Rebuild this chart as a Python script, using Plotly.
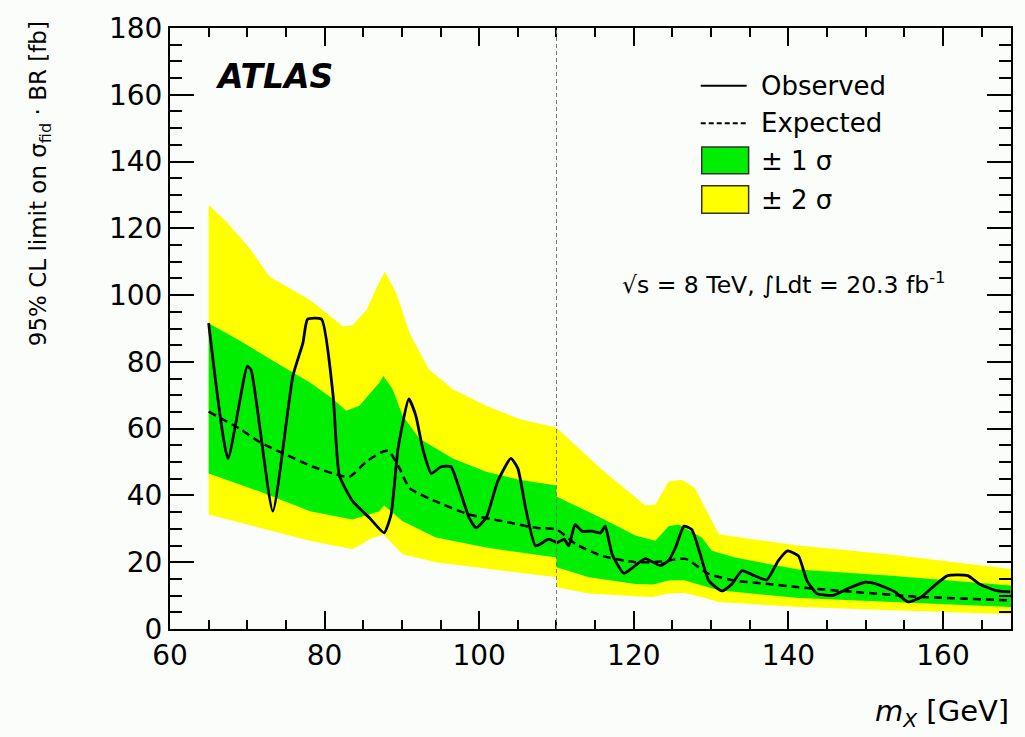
import plotly.graph_objects as go

# ---------------- data ----------------
obs_x = [65, 67.5, 70.0, 70.5, 73.3, 75.9, 77.2, 77.8, 79.6, 81.1, 81.9, 83.65, 85.8, 87.7, 88.6,
         89.5, 90.9, 91.8, 92.7, 93.8, 95.06, 96.35, 97.4, 98.7, 99.6, 100.9, 102.4, 104.1, 105,
         106, 107.3, 109, 110.1, 111, 111.6, 112.4, 113.3, 114.6, 115.7, 116.3, 117.2, 118.7,
         120.2, 121.5, 123.4, 124.5, 125.4, 126.5, 127.5, 128.6, 129.7, 131.4, 132.7, 134.0,
         135.3, 137.2, 138.7, 139.9, 141.3, 142.4, 143.7, 145.8, 147.7, 149.9, 151.6, 153.8,
         155.5, 157.2, 158.9, 160.6, 163.2, 164.7, 166.7, 168.7]
obs_y = [91.6, 51.1, 78.7, 77.5, 35.3, 75.8, 85.7, 92.8, 92.8, 69.9, 46.1, 38.2, 33.3, 28.8, 34.3,
         54.0, 68.9, 63.9, 54.0, 46.6, 48.6, 48.6, 42.2, 33.3, 30.3, 33.3, 44.2, 51.1, 48.1,
         36.3, 24.9, 26.9, 25.9, 26.9, 24.9, 31.3, 29.3, 29.3, 28.8, 30.8, 22.4, 16.7,
         19.0, 21.1, 19.0, 20.5, 24.4, 30.8, 29.8, 22.4, 14.5, 11.4, 13.5, 17.5,
         16.3, 14.7, 20.5, 23.4, 21.9, 14.5, 10.6, 10.1, 12.1, 14.0, 13.3, 11.1,
         8.1, 9.6, 13.0, 16.0, 16.0, 13.5, 11.6, 11.1]

exp_x = [65, 69, 71.6, 75.1, 78.5, 81.1, 83.2, 85.4, 87.5, 88.3, 89.7, 91, 94.4, 98.7, 103, 107.3,
         110, 112.5, 115.9, 120.2, 123.5, 126.7, 129.7, 133.1, 137.4, 141.3, 148.6, 157.2, 168.8]
exp_y = [65.1, 60.0, 56.0, 52.1, 48.6, 46.6, 45.6, 50.1, 53.1, 53.3, 48.1, 42.2, 38.2, 34.3, 32.3, 30.3,
         29.8, 25.4, 21.9, 20.0, 20.2, 21.0, 16.5, 14.5, 13.5, 12.5, 11.1, 9.6, 8.6]

y2_hi_x = [65, 67.3, 70.3, 72.9, 78.1, 82.4, 83.6, 85.4, 87.1, 87.8, 89.3, 91.0, 93.5, 96.6, 100.9,
           105.2, 110, 113, 116, 121.5, 122.8, 124.5, 126.2, 127.9, 129.7, 131.0, 135.3, 141.3,
           152.9, 168.8]
y2_hi = [127, 122, 114, 105.5, 98.5, 90.6, 91, 95.5, 104, 107, 100.5, 88.6, 77.7, 71.8, 66.9,
         62.9, 60.3, 54, 47.5, 37, 37.3, 44.2, 44.7, 42.2, 34.3, 28.4, 26.9, 25, 22.4, 18.0]

y2_lo_x = [65, 71.6, 78.1, 83.6, 86, 87.6, 90.1, 94.4, 100.9, 110, 110, 114.2, 120.2, 122.5, 124.5,
           126.5, 128.8, 131, 141.3, 168.8]
y2_lo = [34.3, 30.3, 26.4, 23.9, 27.0, 28.4, 22.4, 20.0, 18.0, 15.5, 12.5, 10.6, 9.8, 9.6, 10.6,
         10.8, 9.6, 8.1, 6.6, 4.4]

y1_hi_x = [65, 69.5, 73.8, 78.1, 81.1, 82.8, 84.5, 87.1, 87.6, 88.8, 90.1, 92.3, 96.6, 100.9, 105.2,
           110, 110, 112, 116, 120.2, 122.8, 124.5, 125.8, 128.8, 130.1, 133.1, 141.3, 152.9, 168.8]
y1_hi = [91.6, 85.7, 79.7, 73.8, 68.9, 65.4, 66.9, 73.8, 75.8, 71.8, 63.9, 57.0, 51.1, 47.1, 44.7,
         43.0, 39.7, 37.5, 33.0, 28.0, 26.4, 30.8, 31.3, 27.4, 23.4, 21.4, 17.8, 16.0, 13.0]

y1_lo_x = [65, 71.6, 78.1, 83.6, 87.1, 87.7, 90.1, 94.4, 100.9, 110, 110, 114.2, 120.2, 122.5, 124.5,
           126.5, 128.8, 131, 141.3, 168.8]
y1_lo = [46.6, 41.2, 35.3, 32.8, 35.3, 37.0, 32.3, 27.4, 24.4, 21.4, 18.5, 15.5, 13.5, 13.3, 14.5,
         14.6, 13.0, 11.6, 9.3, 6.6]

x_ticks = [60, 80, 100, 120, 140, 160]
y_ticks = [0, 20, 40, 60, 80, 100, 120, 140, 160, 180]
divider_x = 110

GREEN = "#00ee00"
YELLOW = "#ffff00"
FONT = "DejaVu Sans"

fig = go.Figure()

# +-2 sigma band
fig.add_trace(go.Scatter(x=y2_hi_x + y2_lo_x[::-1], y=y2_hi + y2_lo[::-1], fill="toself",
                         fillcolor=YELLOW, line=dict(width=0), mode="lines",
                         hoverinfo="skip", showlegend=False))
# +-1 sigma band
fig.add_trace(go.Scatter(x=y1_hi_x + y1_lo_x[::-1], y=y1_hi + y1_lo[::-1], fill="toself",
                         fillcolor=GREEN, line=dict(width=0), mode="lines",
                         hoverinfo="skip", showlegend=False))
# expected
fig.add_trace(go.Scatter(x=exp_x, y=exp_y, mode="lines",
                         line=dict(color="black", width=2.5, dash="8px,5px", shape="spline", smoothing=0.6),
                         showlegend=False))
# observed
fig.add_trace(go.Scatter(x=obs_x, y=obs_y, mode="lines",
                         line=dict(color="black", width=2.8, shape="spline", smoothing=0.5),
                         showlegend=False))

# vertical divider
fig.add_shape(type="line", xref="x", yref="paper", x0=divider_x, x1=divider_x, y0=0, y1=1,
              line=dict(color="#777777", width=1, dash="4px,3px"), layer="above")

# ---------------- hand-drawn legend (paper coords) ----------------
L, T, W, H = 170.0, 21.7, 843.0, 607.3
def px(x):
    return (x - L) / W
def py(y):
    return (T + H - y) / H

fig.add_shape(type="line", xref="paper", yref="paper", x0=px(702), x1=px(748), y0=py(80), y1=py(80),
              line=dict(color="black", width=2))
fig.add_shape(type="line", xref="paper", yref="paper", x0=px(702), x1=px(748), y0=py(118), y1=py(118),
              line=dict(color="black", width=2, dash="5px,3px"))
fig.add_shape(type="rect", xref="paper", yref="paper", x0=px(703), x1=px(750), y0=py(169), y1=py(142),
              fillcolor=GREEN, line=dict(color="#333333", width=1.5))
fig.add_shape(type="rect", xref="paper", yref="paper", x0=px(703), x1=px(750), y0=py(209), y1=py(181),
              fillcolor=YELLOW, line=dict(color="#333333", width=1.5))

leg_items = [("Observed", 80), ("Expected", 118), ("± 1 σ", 156), ("± 2 σ", 196)]
for txt, yy in leg_items:
    fig.add_annotation(text=txt, xref="paper", yref="paper", x=px(760), y=py(yy),
                       xanchor="left", yanchor="middle", showarrow=False,
                       font=dict(family=FONT, size=26, color="black"))

fig.add_annotation(text="√s = 8 TeV, ∫Ldt = 20.3 fb<sup>-1</sup>", xref="paper", yref="paper",
                   x=px(621), y=py(280), xanchor="left", yanchor="middle", showarrow=False,
                   font=dict(family=FONT, size=23.5, color="black"))

fig.add_annotation(text="<b><i>ATLAS</i></b>", xref="paper", yref="paper",
                   x=px(213), y=py(71), xanchor="left", yanchor="middle", showarrow=False,
                   font=dict(family=FONT, size=33, color="black"))

# axis titles
fig.add_annotation(text="95% CL limit on σ<sub>fid</sub> · BR [fb]", xref="paper", yref="paper",
                   x=px(40), y=py(13), xanchor="center", yanchor="top", textangle=-90,
                   showarrow=False, font=dict(family=FONT, size=23, color="black"))
fig.add_annotation(text="<i>m<sub>X</sub></i> [GeV]", xref="paper", yref="paper",
                   x=px(1013), y=py(714), xanchor="right", yanchor="middle",
                   showarrow=False, font=dict(family=FONT, size=29, color="black"))

axis_common = dict(showgrid=False, zeroline=False, showline=True, linecolor="black", linewidth=2,
                   ticks="inside", mirror="allticks", tickcolor="black", tickwidth=1.5,
                   tickfont=dict(family=FONT, size=28, color="black"))

fig.update_xaxes(range=[60, 168.8], tickvals=x_ticks, ticklen=18,
                 minor=dict(dtick=5, tick0=60, ticklen=9, ticks="inside", tickcolor="black", tickwidth=1.5),
                 **axis_common)
fig.update_yaxes(range=[0, 180], tickvals=y_ticks, ticklen=24,
                 minor=dict(dtick=5, tick0=0, ticklen=12, ticks="inside", tickcolor="black", tickwidth=1.5),
                 **axis_common)

fig.update_layout(width=1025, height=737, margin=dict(l=170, r=12, t=22, b=108),
                  paper_bgcolor="#fbfdfb", plot_bgcolor="#fbfdfb", showlegend=False,
                  font=dict(family=FONT, color="black"))

fig.write_html("out.html")
